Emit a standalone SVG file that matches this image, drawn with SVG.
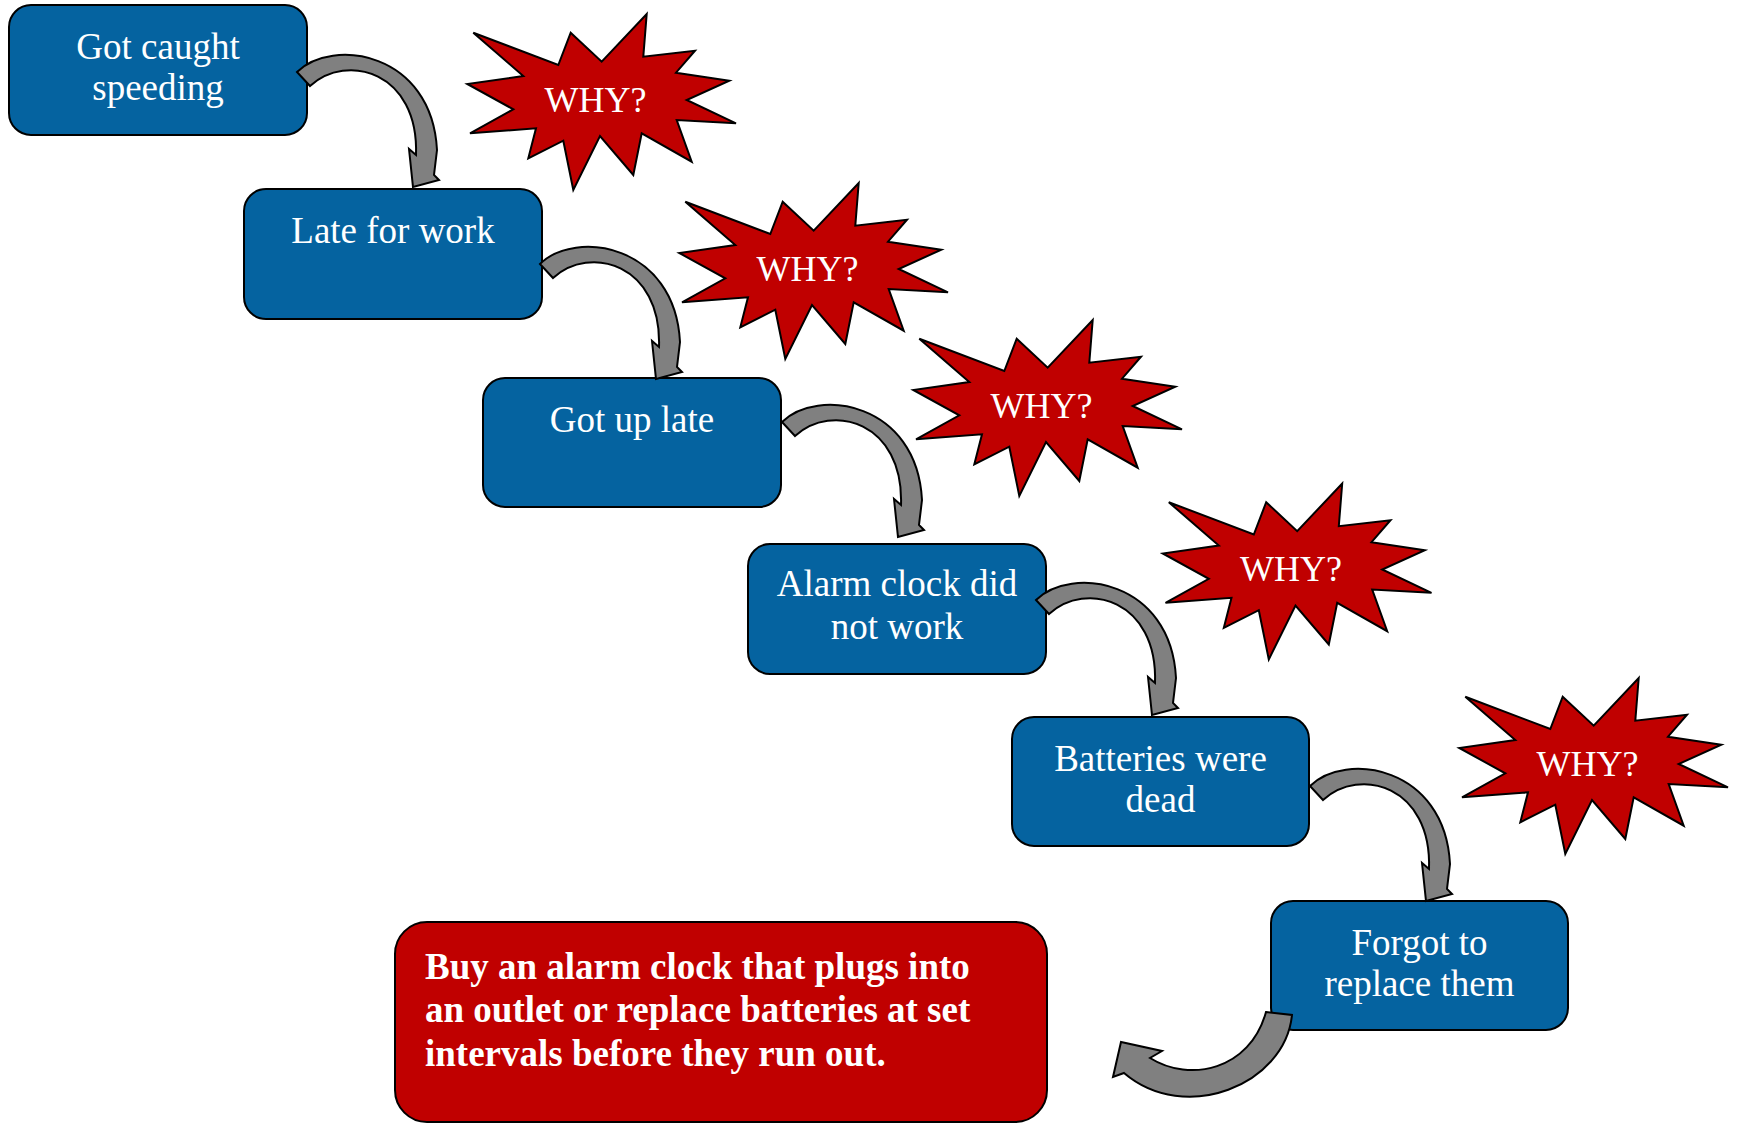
<svg xmlns="http://www.w3.org/2000/svg" xmlns:xlink="http://www.w3.org/1999/xlink" width="1737" height="1123" viewBox="0 0 1737 1123">
  <style>
    .box { fill: #0563A0; stroke: #000; stroke-width: 2; }
    .fix { fill: #C00000; stroke: #000; stroke-width: 2; }
    .burst { fill: #C00000; stroke: #000; stroke-width: 2; stroke-linejoin: miter; }
    .bend { fill: #808080; stroke: #000; stroke-width: 2; stroke-linejoin: miter; }
    .lbl { font-family: "Liberation Serif", "Times New Roman", serif; font-size: 37px; fill: #fff; text-anchor: middle; }
    .why { font-family: "Liberation Serif", "Times New Roman", serif; font-size: 36px; fill: #fff; text-anchor: middle; }
    .fixtxt { font-family: "Liberation Serif", "Times New Roman", serif; font-size: 37px; font-weight: bold; fill: #fff; }
  </style>
  <defs>
    <!-- 24-point explosion shape -->
    <polygon id="burst" class="burst" points="646.7,14 643.3,56.7 695,50.7 676,72.7 729.3,80.7 686.7,100 736,123.3 676.7,120 691.7,161.7 641.7,133.3 633.3,175 600,136 573.3,190 563.3,140.7 528.3,158.3 536,128.3 470,133.3 513.3,109.3 467.3,84 523.3,76 473.3,32.7 558.3,65 570.7,32.7 601.7,61.7"/>
    <!-- curved step arrow, origin at the tail's outer corner -->
    <path id="bend" class="bend" d="M0,0 C35,-35 135,-20 140,78 L137,103 L142,108 L116,115 L112,77 L119,83 C122,0 50,-20 13,14 Z"/>
  </defs>
  <rect width="1737" height="1123" fill="#fff"/>

  <!-- question bursts -->
  <g id="why1"><use xlink:href="#burst"/><text class="why" x="595.5" y="111.7">WHY?</text></g>
  <g id="why2" transform="translate(212,169)"><use xlink:href="#burst"/><text class="why" x="595.5" y="111.7">WHY?</text></g>
  <g id="why3" transform="translate(446,306)"><use xlink:href="#burst"/><text class="why" x="595.5" y="111.7">WHY?</text></g>
  <g id="why4" transform="translate(695.5,469.5)"><use xlink:href="#burst"/><text class="why" x="595.5" y="111.7">WHY?</text></g>
  <g id="why5" transform="translate(992,664)"><use xlink:href="#burst"/><text class="why" x="595.5" y="111.7">WHY?</text></g>

  <!-- cause chain -->
  <g id="n1"><rect class="box" x="9" y="5" width="298" height="130" rx="22"/>
    <text class="lbl" x="158" y="59">Got caught</text><text class="lbl" x="158" y="100">speeding</text></g>
  <g id="n2"><rect class="box" x="244" y="189" width="298" height="130" rx="22"/>
    <text class="lbl" x="393" y="243">Late for work</text></g>
  <g id="n3"><rect class="box" x="483" y="378" width="298" height="129" rx="22"/>
    <text class="lbl" x="632" y="432">Got up late</text></g>
  <g id="n4"><rect class="box" x="748" y="544" width="298" height="130" rx="22"/>
    <text class="lbl" x="897" y="596">Alarm clock did</text><text class="lbl" x="897" y="639">not work</text></g>
  <g id="n5"><rect class="box" x="1012" y="717" width="297" height="129" rx="22"/>
    <text class="lbl" x="1160.5" y="771">Batteries were</text><text class="lbl" x="1160.5" y="812">dead</text></g>
  <g id="n6"><rect class="box" x="1271" y="901" width="297" height="129" rx="22"/>
    <text class="lbl" x="1419.5" y="955">Forgot to</text><text class="lbl" x="1419.5" y="996">replace them</text></g>

  <!-- countermeasure -->
  <g id="fix"><rect class="fix" x="395" y="922" width="652" height="200" rx="32"/>
    <text class="fixtxt" x="425" y="979">Buy an alarm clock that plugs into</text>
    <text class="fixtxt" x="425" y="1022">an outlet or replace batteries at set</text>
    <text class="fixtxt" x="425" y="1066">intervals before they run out.</text></g>

  <!-- connectors -->
  <g id="connectors">
    <use xlink:href="#bend" transform="translate(297,72)"/>
    <use xlink:href="#bend" transform="translate(540,264)"/>
    <use xlink:href="#bend" transform="translate(782,422)"/>
    <use xlink:href="#bend" transform="translate(1036,600)"/>
    <use xlink:href="#bend" transform="translate(1310,786)"/>
    <path class="bend" d="M1266,1012 L1292,1015 C1285,1085 1185,1125 1124,1073 L1113,1077 L1121,1042 L1162,1051 L1150,1058 C1190,1083 1250,1070 1266,1012 Z"/>
  </g>
</svg>
